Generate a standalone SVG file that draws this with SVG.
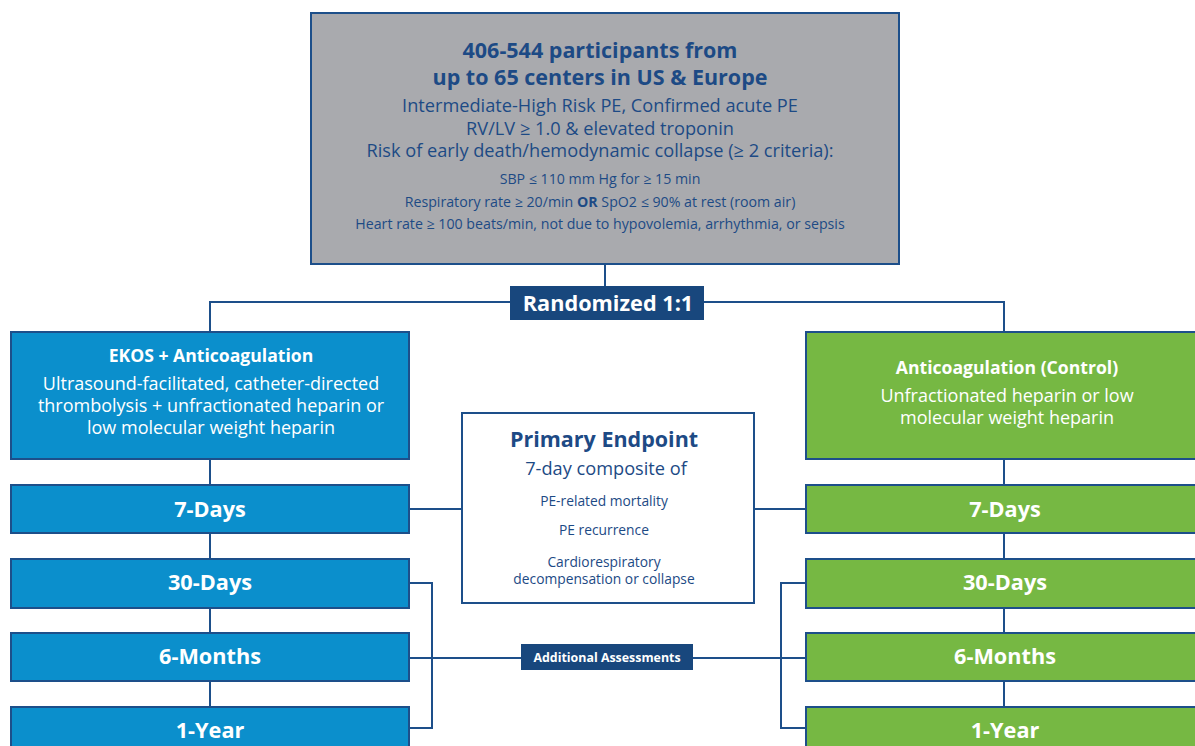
<svg xmlns="http://www.w3.org/2000/svg" width="1195" height="746" viewBox="0 0 1195 746">
  <style>
    text { font-family: "Open Sans", "Noto Sans", "Liberation Sans", sans-serif; text-anchor: middle; }
    .box { stroke: #1d4f8a; stroke-width: 2; }
    .gray { fill: #a9aaae; }
    .blue { fill: #0b8fcc; }
    .green { fill: #76b843; }
    .white { fill: #ffffff; }
    .navy { fill: #18477d; }
    .conn { fill: none; stroke: #1d4f8a; stroke-width: 2; }
    .h1 { font-size: 21.5px; font-weight: 700; fill: #1d4a85; }
    .h2 { font-size: 18.2px; fill: #1d4a85; }
    .h3 { font-size: 14.2px; fill: #1d4a85; }
    .h4 { font-size: 13.8px; fill: #1d4a85; }
    .wb { font-size: 17.6px; font-weight: 700; fill: #ffffff; }
    .w { font-size: 18px; fill: #ffffff; }
    .tp { font-size: 21.7px; font-weight: 700; fill: #ffffff; }
  </style>

  <!-- connectors -->
  <g id="connectors">
    <path class="conn" d="M605 264 V286"/>
    <path class="conn" d="M210 332 V302 H1004 V332"/>
    <path class="conn" d="M210 459 V485 M210 533 V559 M210 608 V633 M210 681 V707"/>
    <path class="conn" d="M1004 459 V485 M1004 533 V559 M1004 608 V633 M1004 681 V707"/>
    <path class="conn" d="M409 509 H462 M754 509 H806"/>
    <path class="conn" d="M409 583 H432 V728 H409"/>
    <path class="conn" d="M806 583 H781 V728 H806"/>
    <path class="conn" d="M409 658 H521 M693 658 H806"/>
  </g>

  <!-- enrollment -->
  <g id="enrollment">
    <rect class="box gray" x="311" y="13" width="588" height="251"/>
    <text class="h1" x="600" y="58">406-544 participants from</text>
    <text class="h1" x="600" y="85">up to 65 centers in US &amp; Europe</text>
    <text class="h2" x="600" y="112">Intermediate-High Risk PE, Confirmed acute PE</text>
    <text class="h2" x="600" y="135">RV/LV ≥ 1.0 &amp; elevated troponin</text>
    <text class="h2" x="600" y="157">Risk of early death/hemodynamic collapse (≥ 2 criteria):</text>
    <text class="h3" x="600" y="184">SBP ≤ 110 mm Hg for ≥ 15 min</text>
    <text class="h3" x="600" y="207">Respiratory rate ≥ 20/min <tspan font-weight="700">OR</tspan> SpO2 ≤ 90% at rest (room air)</text>
    <text class="h3" x="600" y="229">Heart rate ≥ 100 beats/min, not due to hypovolemia, arrhythmia, or sepsis</text>
  </g>

  <!-- randomization -->
  <g id="randomized">
    <rect class="navy" x="510" y="286" width="194" height="34"/>
    <text class="tp" x="608" y="311" font-size="21">Randomized 1:1</text>
  </g>

  <!-- treatment arm -->
  <g id="ekos-arm">
    <rect class="box blue" x="11" y="332" width="398" height="127"/>
    <text class="wb" x="211" y="362">EKOS + Anticoagulation</text>
    <text class="w" x="211" y="390">Ultrasound-facilitated, catheter-directed</text>
    <text class="w" x="211" y="412">thrombolysis + unfractionated heparin or</text>
    <text class="w" x="211" y="434">low molecular weight heparin</text>
  </g>

  <!-- control arm -->
  <g id="control-arm">
    <rect class="box green" x="806" y="332" width="398" height="127"/>
    <text class="wb" x="1007" y="374">Anticoagulation (Control)</text>
    <text class="w" x="1007" y="402">Unfractionated heparin or low</text>
    <text class="w" x="1007" y="424">molecular weight heparin</text>
  </g>

  <!-- follow-up timepoints, treatment arm -->
  <g id="ekos-7d"><rect class="box blue" x="11" y="485" width="398" height="48"/><text class="tp" x="210" y="517">7-Days</text></g>
  <g id="ekos-30d"><rect class="box blue" x="11" y="559" width="398" height="49"/><text class="tp" x="210" y="590">30-Days</text></g>
  <g id="ekos-6m"><rect class="box blue" x="11" y="633" width="398" height="48"/><text class="tp" x="210" y="664">6-Months</text></g>
  <g id="ekos-1y"><rect class="box blue" x="11" y="707" width="398" height="60"/><text class="tp" x="210" y="738">1-Year</text></g>

  <!-- follow-up timepoints, control arm -->
  <g id="control-7d"><rect class="box green" x="806" y="485" width="398" height="48"/><text class="tp" x="1005" y="517">7-Days</text></g>
  <g id="control-30d"><rect class="box green" x="806" y="559" width="398" height="49"/><text class="tp" x="1005" y="590">30-Days</text></g>
  <g id="control-6m"><rect class="box green" x="806" y="633" width="398" height="48"/><text class="tp" x="1005" y="664">6-Months</text></g>
  <g id="control-1y"><rect class="box green" x="806" y="707" width="398" height="60"/><text class="tp" x="1005" y="738">1-Year</text></g>

  <!-- primary endpoint -->
  <g id="primary-endpoint">
    <rect class="box white" x="462" y="413" width="292" height="190"/>
    <text class="h1" x="604" y="447">Primary Endpoint</text>
    <text class="h2" x="606" y="475">7-day composite of</text>
    <text class="h4" x="604" y="506">PE-related mortality</text>
    <text class="h4" x="604" y="535">PE recurrence</text>
    <text class="h4" x="604" y="567">Cardiorespiratory</text>
    <text class="h4" x="604" y="584">decompensation or collapse</text>
  </g>

  <!-- additional assessments -->
  <g id="additional-assessments">
    <rect class="navy" x="521" y="644" width="172" height="26"/>
    <text x="607" y="662" font-size="12.4" font-weight="700" fill="#ffffff">Additional Assessments</text>
  </g>
</svg>
